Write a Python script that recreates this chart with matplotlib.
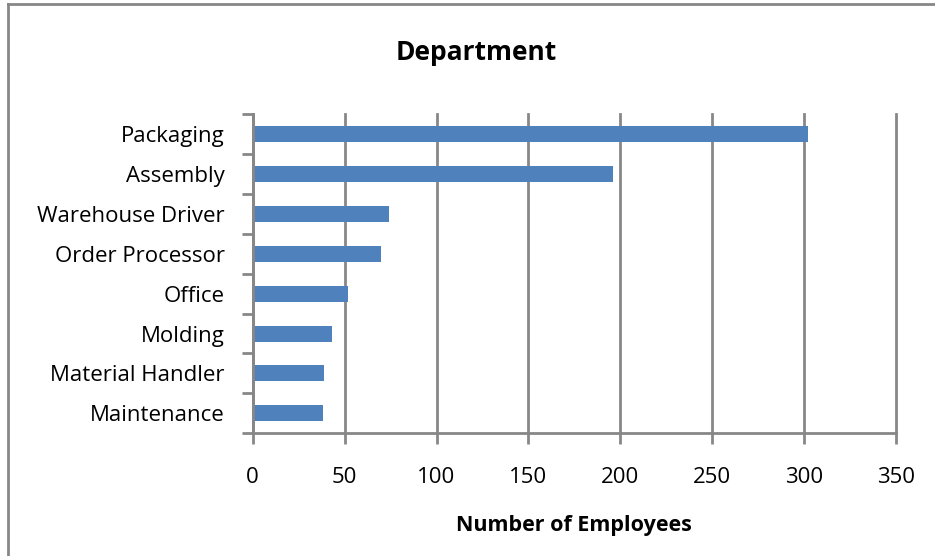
import matplotlib
matplotlib.use("Agg")
import matplotlib.pyplot as plt
from matplotlib.lines import Line2D
import numpy as np

# Headcount by department (listed top to bottom)
departments = ["Packaging", "Assembly", "Warehouse Driver", "Order Processor",
               "Office", "Molding", "Material Handler", "Maintenance"]
employees = [302, 196, 74, 70, 52, 43, 39, 38]
x_ticks = [0, 50, 100, 150, 200, 250, 300, 350]

BAR = "#4F81BD"
GRAY = "#878787"
FONT = "Open Sans"

fig = plt.figure(figsize=(9.35, 5.56), dpi=100)
ax = fig.add_axes([252.7 / 935, 1 - 433.3 / 556, (896 - 252.7) / 935, (433.3 - 114) / 556])

y = np.arange(len(departments))[::-1]
ax.barh(y, employees, height=0.4, color=BAR, zorder=3)

ax.set_xlim(0, 350)
ax.set_ylim(-0.5, len(departments) - 0.5)
ax.set_xticks(x_ticks)
ax.set_xticklabels([str(t) for t in x_ticks], fontsize=16, family=FONT)

# category labels centred, tick marks on category boundaries
ax.set_yticks(y)
ax.set_yticklabels(departments, fontsize=16, family=FONT)
ax.set_yticks(np.arange(-0.5, len(departments)), minor=True)
ax.tick_params(axis="y", which="major", length=0, pad=20)
ax.tick_params(axis="y", which="minor", length=8, width=2, color=GRAY, direction="out")
ax.tick_params(axis="x", which="major", length=8, width=2, color=GRAY, direction="out", pad=16)

ax.grid(axis="x", color=GRAY, linewidth=2, zorder=1)
for gl in ax.get_xgridlines():
    gl.set_clip_on(False)
for side in ("top", "right"):
    ax.spines[side].set_visible(False)
for side in ("left", "bottom"):
    ax.spines[side].set_color(GRAY)
    ax.spines[side].set_linewidth(2)
    ax.spines[side].set_zorder(4)

ax.set_xlabel("Number of Employees", fontsize=15.5, fontweight="bold", family=FONT, labelpad=20)
fig.text(476 / 935, 1 - 53 / 556, "Department", fontsize=19, fontweight="bold",
         family=FONT, ha="center", va="center")

# chart frame
fig.add_artist(Line2D([8 / 935, 8 / 935], [0, 1 - 4 / 556], transform=fig.transFigure,
                      color=GRAY, linewidth=2))
fig.add_artist(Line2D([8 / 935, 1], [1 - 4 / 556, 1 - 4 / 556], transform=fig.transFigure,
                      color=GRAY, linewidth=2))

fig.savefig("out.png", dpi=100)
